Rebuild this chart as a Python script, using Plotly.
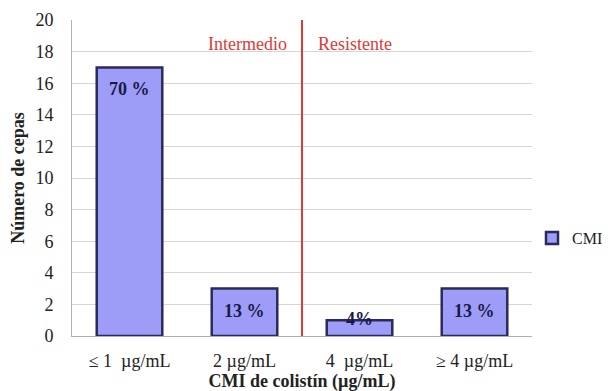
import plotly.graph_objects as go

categories = ["≤ 1  µg/mL", "2 µg/mL", "4  µg/mL", "≥ 4 µg/mL"]
counts = [17, 3, 1, 3]
pct_labels = ["70 %", "13 %", "4%", "13 %"]
series_name = "CMI"
y_ticks = list(range(0, 21, 2))

FONT = "Liberation Serif, Times New Roman, serif"
BAR_FILL = "#9d9df7"
BAR_LINE = "#2a2a5c"
RED = "#e03a34"
TXT = "#222222"

fig = go.Figure()
fig.add_trace(go.Bar(
    x=categories, y=counts, name=series_name,
    marker=dict(color=BAR_FILL, line=dict(color=BAR_LINE, width=2.5)),
    width=0.57, showlegend=True,
))

for cat, v, lab in zip(categories, counts, pct_labels):
    tall = v >= 2
    fig.add_annotation(
        x=cat, y=v, text=f"<b>{lab}</b>", showarrow=False,
        yanchor="top" if tall else "middle", yshift=-10 if tall else 1,
        font=dict(family=FONT, size=18, color="#1a1a48"),
    )

# divider between intermediate and resistant
fig.add_shape(type="line", xref="x", yref="paper", x0=1.5, x1=1.5, y0=0, y1=1,
              line=dict(color=RED, width=2))
fig.add_annotation(x=1.5, y=18.5, xref="x", yref="y", text="Intermedio", showarrow=False,
                   xanchor="right", xshift=-13, font=dict(family=FONT, size=18, color=RED))
fig.add_annotation(x=1.5, y=18.5, xref="x", yref="y", text="Resistente", showarrow=False,
                   xanchor="left", xshift=14, font=dict(family=FONT, size=18, color=RED))

fig.update_layout(
    width=612, height=391,
    margin=dict(l=64, r=83, t=12, b=63),
    paper_bgcolor="white", plot_bgcolor="white",
    font=dict(family=FONT, size=18, color=TXT),
    bargap=0.43,
    legend=dict(x=1.0, y=0.31, xanchor="left", yanchor="middle",
                font=dict(family=FONT, size=16, color=TXT),
                itemwidth=30, tracegroupgap=0),
    xaxis=dict(automargin=False, showline=True, linecolor="#b0b0b0", linewidth=1, ticks="",
               ticklabelstandoff=8,
               title=dict(text="<b>CMI de colistín (µg/mL)</b>", standoff=0,
                          font=dict(family=FONT, size=18, color=TXT)),
               tickfont=dict(family=FONT, size=18, color=TXT)),
    yaxis=dict(automargin=False, range=[0, 20], tickvals=y_ticks, showgrid=True,
               gridcolor="#d6d6d6",
               showline=True, linecolor="#b0b0b0", linewidth=1, zeroline=False,
               ticks="", ticklabelstandoff=14,
               title=dict(text="<b>Número de cepas</b>", standoff=8,
                          font=dict(family=FONT, size=18, color=TXT)),
               tickfont=dict(family=FONT, size=18, color=TXT)),
)

fig.write_html("out.html")
